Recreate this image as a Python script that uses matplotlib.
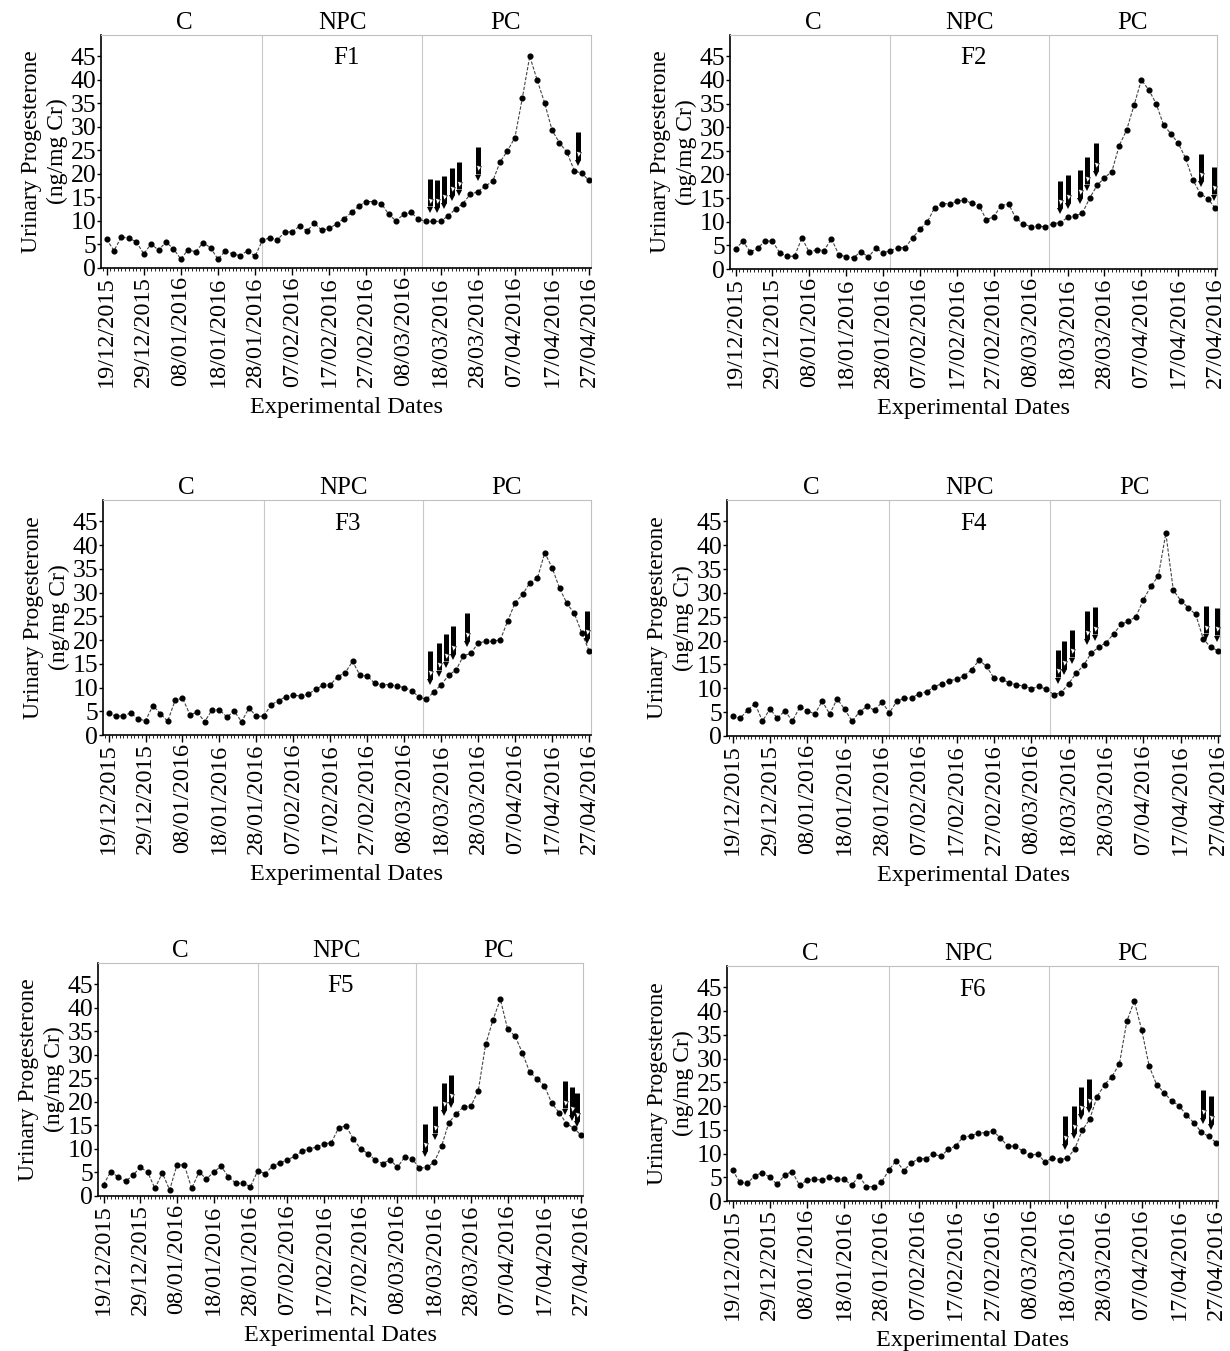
import matplotlib.pyplot as plt
import numpy as np
from matplotlib.ticker import FuncFormatter, MultipleLocator

plt.rcParams["font.family"] = ["Liberation Serif", "DejaVu Serif"]

# sampling: every 2 days starting 19/12/2015
start_date = np.datetime64("2015-12-19")
sample_days = np.arange(0, 131, 2)
tick_days = np.arange(0, 131, 10)
phase_names = ["C", "NPC", "PC"]
phase_bounds = [0, 42, 85, 130]

f1 = [6.1, 3.7, 6.6, 6.3, 5.6, 3.0, 5.1, 3.8, 5.5, 4.1, 1.9, 3.9, 3.4, 5.4, 4.3, 1.9,
      3.6, 3.0, 2.6, 3.7, 2.5, 5.9, 6.4, 6.0, 7.6, 7.7, 8.9, 7.9, 9.5, 8.0, 8.4, 9.4,
      10.5, 11.8, 13.2, 14.1, 14.1, 13.7, 11.4, 10.0, 11.4, 11.8, 10.4, 9.9, 9.9, 9.9,
      11.1, 12.5, 13.7, 15.7, 16.2, 17.4, 18.4, 22.5, 24.9, 27.7, 36.1, 45.0, 39.9, 35.1,
      29.3, 26.6, 24.6, 20.7, 20.1, 18.6]
f2 = [4.2, 5.9, 3.6, 4.4, 5.9, 5.9, 3.4, 2.7, 2.7, 6.6, 3.5, 4.1, 3.9, 6.4, 3.0, 2.6,
      2.4, 3.7, 2.5, 4.4, 3.4, 3.9, 4.5, 4.5, 6.6, 8.4, 10.0, 13.0, 13.8, 13.8, 14.3, 14.6,
      13.9, 13.4, 10.4, 11.1, 13.4, 13.8, 10.7, 9.6, 8.9, 9.1, 8.9, 9.6, 9.8, 10.9,
      11.2, 11.8, 15.0, 17.7, 19.3, 20.6, 26.1, 29.4, 34.6, 40.0, 37.9, 35.0, 30.5, 28.6,
      26.6, 23.4, 18.8, 15.9, 14.9, 12.9]
f3 = [4.7, 3.9, 4.1, 4.6, 3.4, 3.0, 6.2, 4.5, 2.9, 7.3, 7.8, 4.3, 4.8, 2.8, 5.3, 5.3,
      3.8, 5.0, 2.8, 5.7, 3.9, 4.0, 6.4, 7.2, 8.1, 8.4, 8.2, 8.6, 9.6, 10.5, 10.6, 12.3,
      13.1, 15.5, 12.6, 12.4, 10.9, 10.6, 10.6, 10.3, 10.0, 9.3, 8.0, 7.5, 9.1, 10.6,
      12.6, 13.7, 16.7, 17.2, 19.4, 19.7, 19.7, 20.1, 24.1, 27.9, 29.6, 32.1, 33.0, 38.4,
      35.2, 30.9, 27.7, 25.6, 21.5, 17.7]
f4 = [4.1, 3.7, 5.4, 6.8, 3.1, 5.7, 3.7, 5.3, 3.1, 6.1, 5.3, 4.6, 7.3, 4.6, 7.8, 5.6,
      3.1, 5.1, 6.2, 5.4, 7.1, 4.9, 7.3, 7.9, 8.0, 8.9, 9.3, 10.3, 11.0, 11.6, 11.9, 12.6,
      13.9, 15.9, 14.6, 12.1, 11.9, 11.2, 10.7, 10.5, 9.9, 10.4, 9.8, 8.7, 9.1, 11.0,
      13.2, 14.8, 17.4, 18.6, 19.6, 21.4, 23.4, 24.1, 25.0, 28.6, 31.4, 33.6, 42.5, 30.6,
      28.4, 26.9, 25.5, 20.4, 18.6, 17.9]
f5 = [2.4, 5.2, 4.0, 3.1, 4.4, 6.1, 5.1, 1.6, 4.9, 1.3, 6.6, 6.6, 1.6, 5.1, 3.6, 5.1,
      6.3, 4.1, 2.7, 2.7, 2.0, 5.4, 4.7, 6.4, 7.0, 7.7, 8.4, 9.5, 10.0, 10.4, 11.1, 11.3,
      14.5, 14.9, 12.1, 10.0, 9.0, 7.6, 6.9, 7.7, 6.1, 8.3, 7.9, 5.9, 6.1, 7.2,
      10.6, 15.6, 17.4, 19.0, 19.1, 22.4, 32.2, 37.4, 41.8, 35.4, 34.0, 30.4, 26.3, 24.9,
      23.4, 19.7, 17.7, 15.4, 14.4, 12.9]
f6 = [6.5, 3.9, 3.8, 5.3, 6.0, 5.0, 3.5, 5.5, 6.2, 3.3, 4.4, 4.6, 4.4, 5.0, 4.6, 4.6,
      3.3, 5.3, 3.0, 3.0, 3.9, 6.5, 8.5, 6.4, 8.0, 8.9, 8.9, 9.9, 9.4, 10.9, 11.6, 13.5,
      13.7, 14.3, 14.4, 14.7, 13.3, 11.5, 11.6, 10.5, 9.6, 9.9, 8.2, 9.1, 8.7, 9.0,
      11.0, 14.9, 17.2, 22.0, 24.5, 26.2, 28.9, 37.9, 42.1, 36.0, 28.4, 24.5, 22.8, 21.1,
      20.1, 18.1, 16.5, 14.5, 13.6, 12.3]

# arrow markers (day, upper end of arrow)
arrow_days_f1 = [87, 89, 91, 93, 95, 100, 127]
arrow_tops_f1 = [18.9, 18.8, 19.6, 21.3, 22.5, 25.7, 28.8]
arrow_days_f2 = [88, 90, 93.3, 95.3, 97.6, 126.2, 129.6]
arrow_tops_f2 = [18.7, 19.8, 20.9, 23.7, 26.6, 24.4, 21.6]
arrow_days_f3 = [87, 89.3, 91.3, 93.2, 96.9, 129.4]
arrow_tops_f3 = [17.6, 19.4, 21.3, 22.9, 25.7, 26.2]
arrow_days_f4 = [87.2, 88.7, 91.0, 94.9, 97.0, 126.8, 129.7]
arrow_tops_f4 = [18.1, 19.9, 22.3, 26.2, 27.1, 27.3, 26.9]
arrow_days_f5 = [87.6, 90.1, 92.6, 94.6, 125.5, 127.5, 129.0]
arrow_tops_f5 = [15.4, 19.1, 24.1, 25.8, 24.4, 23.1, 21.8]
arrow_days_f6 = [89.5, 91.9, 93.8, 95.8, 126.4, 128.6]
arrow_tops_f6 = [17.9, 20.1, 24.1, 25.7, 23.3, 22.1]
arrow_len = 7.6

panel_names = ["F1", "F2", "F3", "F4", "F5", "F6"]
panel_values = [f1, f2, f3, f4, f5, f6]
panel_arrow_days = [arrow_days_f1, arrow_days_f2, arrow_days_f3,
                    arrow_days_f4, arrow_days_f5, arrow_days_f6]
panel_arrow_tops = [arrow_tops_f1, arrow_tops_f2, arrow_tops_f3,
                    arrow_tops_f4, arrow_tops_f5, arrow_tops_f6]

W, H = 1230, 1351
# axes boxes in pixels: left, top, right, bottom
boxes = [(101, 35, 591, 268), (730, 35, 1217, 269),
         (103, 500, 591, 735), (727, 500, 1220, 736),
         (98, 963, 583, 1196), (727, 966, 1218, 1201)]


def date_label(d, pos):
    dt = (start_date + np.timedelta64(int(round(d)), "D")).astype(object)
    return dt.strftime("%d/%m/%Y")


fig = plt.figure(figsize=(W / 100, H / 100), dpi=100)

for name, vals, a_days, a_tops, box in zip(panel_names, panel_values, panel_arrow_days,
                                           panel_arrow_tops, boxes):
    l, t, r, b = box
    ax = fig.add_axes([l / W, 1 - b / H, (r - l) / W, (b - t) / H])

    for bd in phase_bounds[1:3]:
        ax.axvline(bd, color="#c8c8c8", lw=0.8, zorder=1)

    ax.plot(sample_days, vals, ls=(0, (3, 1.5)), lw=0.8, color="#444444",
            marker="o", ms=3.4, mfc="black", mec="black", zorder=3)

    for d, top in zip(a_days, a_tops):
        bottom = top - arrow_len
        ax.plot([d, d], [top, bottom + 1.8], color="black", lw=3.6,
                solid_capstyle="butt", zorder=4)
        ax.plot(d, bottom + 1.1, marker="v", ms=4.4, color="black", mew=0, zorder=4)
        ax.plot(d, top - arrow_len * 0.6, marker="v", ms=3.6, mfc="white",
                mec="black", mew=0.4, zorder=5)

    for i, pn in enumerate(phase_names):
        mid = (phase_bounds[i] + phase_bounds[i + 1]) / 2
        ax.text(mid, 1.005, pn, transform=ax.get_xaxis_transform(),
                ha="center", va="bottom", fontsize=18)
    ax.text(0.5, 0.9, name, transform=ax.transAxes, ha="center", va="center",
            fontsize=18)

    ax.set_xlim(-1.5, 130.5)
    ax.set_ylim(0, 49.5)
    ax.set_xticks(tick_days)
    ax.xaxis.set_major_formatter(FuncFormatter(date_label))
    ax.xaxis.set_minor_locator(MultipleLocator(1))
    ax.set_yticks(np.arange(0, 46, 5))
    ax.tick_params(axis="x", which="major", rotation=90, labelsize=17.5,
                   length=5, width=1, pad=1)
    ax.tick_params(axis="x", which="minor", length=2, width=0.6)
    ax.tick_params(axis="y", labelsize=18.5, length=3, width=1, pad=0.5)

    for s in ["top", "right"]:
        ax.spines[s].set_color("#c0c0c0")
        ax.spines[s].set_linewidth(0.8)
    for s in ["left", "bottom"]:
        ax.spines[s].set_linewidth(1.2)

    ax.set_ylabel("Urinary Progesterone\n(ng/mg Cr)", fontsize=17,
                  linespacing=1.3, labelpad=1.5)
    ax.set_xlabel("Experimental Dates", fontsize=17.5, labelpad=7)

fig.savefig("out.png", dpi=100)
